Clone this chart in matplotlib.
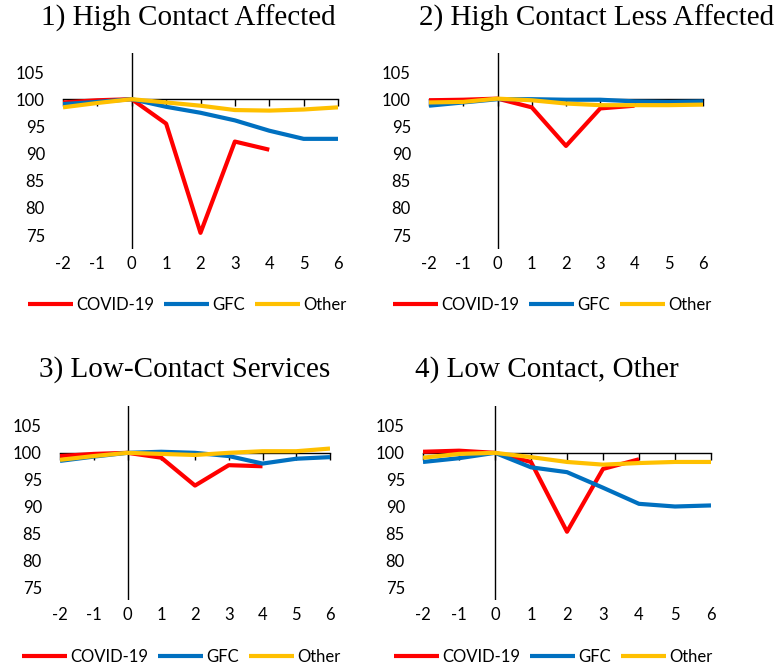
import matplotlib
matplotlib.use("Agg")
import matplotlib.pyplot as plt

W, H = 780, 671

quarters = [-2, -1, 0, 1, 2, 3, 4, 5, 6]
covid_quarters = [-2, -1, 0, 1, 2, 3, 4]
yticks = [75, 80, 85, 90, 95, 100, 105]
series_names = ["COVID-19", "GFC", "Other"]

titles = ["1) High Contact Affected", "2) High Contact Less Affected",
          "3) Low-Contact Services", "4) Low Contact, Other"]

covid_1 = [99.4, 99.8, 100.0, 95.5, 75.4, 92.2, 90.7]
gfc_1 = [99.1, 99.5, 100.0, 98.6, 97.5, 96.1, 94.2, 92.7, 92.7]
other_1 = [98.5, 99.3, 100.0, 99.4, 98.8, 98.0, 97.9, 98.1, 98.5]

covid_2 = [99.8, 99.9, 100.1, 98.5, 91.4, 98.3, 98.8]
gfc_2 = [98.8, 99.4, 100.0, 100.0, 99.9, 99.9, 99.6, 99.5, 99.6]
other_2 = [99.4, 99.5, 100.1, 99.8, 99.2, 98.9, 98.9, 98.9, 99.0]

covid_3 = [99.4, 99.8, 100.0, 99.1, 93.9, 97.7, 97.5]
gfc_3 = [98.5, 99.3, 100.0, 100.2, 100.0, 99.4, 98.0, 98.9, 99.2]
other_3 = [98.7, 99.4, 100.0, 99.8, 99.6, 100.0, 100.3, 100.3, 100.8]

covid_4 = [100.2, 100.4, 100.0, 98.3, 85.3, 97.0, 98.8]
gfc_4 = [98.3, 99.0, 100.0, 97.3, 96.4, 93.5, 90.5, 90.0, 90.2]
other_4 = [99.1, 99.8, 100.0, 99.2, 98.3, 97.8, 98.1, 98.3, 98.3]

panels = [
    (covid_1, gfc_1, other_1),
    (covid_2, gfc_2, other_2),
    (covid_3, gfc_3, other_3),
    (covid_4, gfc_4, other_4),
]

colors = ["#FF0000", "#0070C0", "#FFC000"]

# axes boxes in pixels: left, right, top, bottom ; ylim
boxes = [
    (63, 338, 53, 248.6, (72.5, 108.5)),
    (429, 703, 53, 248.6, (72.5, 108.5)),
    (60, 330, 405.6, 599.9, (72.6, 108.8)),
    (423, 711, 405.6, 599.9, (72.6, 108.8)),
]
title_pos = [(188, 18), (597, 18), (185, 370), (547, 370)]
legend_pos = [(187, 305), (552, 305), (181, 657), (553, 657)]

tick_font = "Lato"

fig = plt.figure(figsize=(W / 100, H / 100), dpi=100)

for i, (data, box) in enumerate(zip(panels, boxes)):
    l, r, t, b, ylim = box
    ax = fig.add_axes([l / W, 1 - b / H, (r - l) / W, (b - t) / H])
    ax.set_xlim(-2, 6)
    ax.set_ylim(*ylim)
    covid, gfc, other = data
    handles = []
    for xs, ys, c, name in zip([covid_quarters, quarters, quarters], [covid, gfc, other],
                               colors, series_names):
        h, = ax.plot(xs, ys, color=c, lw=3.0, solid_joinstyle="round",
                     solid_capstyle="butt", zorder=3, label=name)
        handles.append(h)
    ax.axvline(0, color="black", lw=1.0, zorder=2)
    for s in ["top", "right", "left"]:
        ax.spines[s].set_visible(False)
    ax.spines["bottom"].set_position(("data", 100))
    ax.spines["bottom"].set_linewidth(1.0)
    ax.spines["bottom"].set_zorder(2)
    ax.set_xticks(quarters)
    ax.tick_params(axis="x", direction="out", length=5, width=1.0, labelbottom=False)
    sec = ax.secondary_xaxis("bottom")
    sec.set_xticks(quarters)
    sec.set_xticklabels([str(q) for q in quarters])
    sec.tick_params(length=0, pad=5, labelsize=12)
    for lab in sec.get_xticklabels():
        lab.set_fontfamily(tick_font)
    sec.spines["bottom"].set_visible(False)
    ax.set_yticks(yticks)
    ax.set_yticklabels([str(v) for v in yticks], fontsize=12, fontfamily=tick_font)
    ax.tick_params(axis="y", length=0, pad=13)
    ax.patch.set_visible(False)

    tx, ty = title_pos[i]
    fig.text(tx / W, 1 - ty / H, titles[i], ha="center", va="center",
             fontsize=21, fontfamily="Liberation Serif")
    lx, ly = legend_pos[i]
    fig.legend(handles=handles, labels=series_names, loc="center",
               bbox_to_anchor=(lx / W, 1 - ly / H), ncol=3, frameon=False,
               prop={"family": tick_font, "size": 12}, handlelength=2.7,
               handletextpad=0.2, columnspacing=0.6, borderpad=0, borderaxespad=0)

fig.savefig("out.png", dpi=100)
